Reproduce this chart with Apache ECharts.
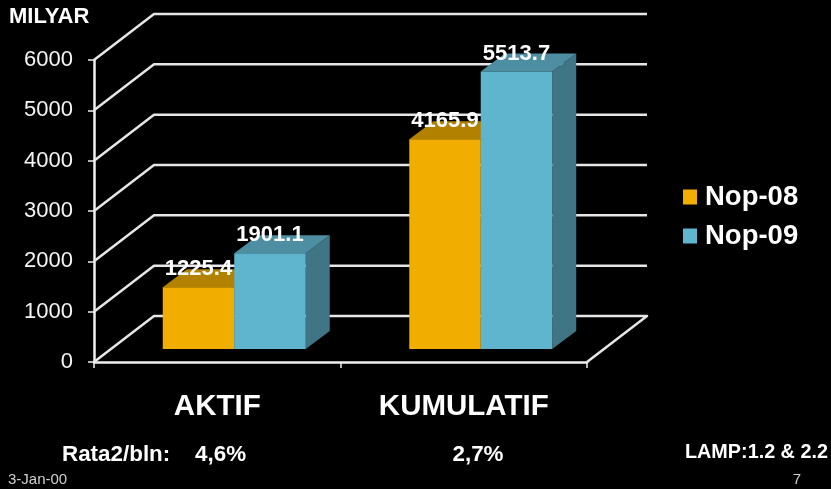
<!DOCTYPE html>
<html>
<head>
<meta charset="utf-8">
<style>html,body{margin:0;padding:0;background:#000}#c{width:831px;height:489px}</style>
<script src="https://cdn.jsdelivr.net/npm/echarts@6/dist/echarts.min.js"></script>
</head>
<body>
<div id="c"></div>
<script>
const categories = ['AKTIF', 'KUMULATIF'];
const nop08 = [1225.4, 4165.9];
const nop09 = [1901.1, 5513.7];
const gridValues = [0, 1000, 2000, 3000, 4000, 5000, 6000];
const seriesNames = ['Nop-08', 'Nop-09'];

const FONT = '"Liberation Sans", Arial, sans-serif';
const WALL = [60, -46], FLOOR = [17, -13], DEPTH = [24, -18];

function wallItem(params, api) {
  const v = api.value(1);
  const y = api.coord([0, v])[1];
  const cs = params.coordSys;
  const x0 = cs.x, x1 = cs.x + cs.width;
  const pts = [[x0, y], [x0 + WALL[0], y + WALL[1]], [x1 + WALL[0], y + WALL[1]]];
  if (v === 0) pts.push([x1, y]);
  return { type: 'polyline', shape: { points: pts },
           style: { stroke: '#e6e6e6', lineWidth: 2.5, fill: null, lineJoin: 'round' } };
}

function barItem(side, palette) {
  return function (params, api) {
    const i = api.value(0), v = api.value(1);
    const band = api.size([1, 0])[0];
    const w = band * 0.29;
    const top = api.coord([i, v]), base = api.coord([i, 0]);
    const xl = top[0] + FLOOR[0] + (side < 0 ? -w : 0), xr = xl + w;
    const yt = top[1] + FLOOR[1], yb = base[1] + FLOOR[1];
    const dx = DEPTH[0], dy = DEPTH[1];
    return { type: 'group', children: [
      { type: 'polygon', shape: { points: [[xr, yt], [xr + dx, yt + dy], [xr + dx, yb + dy], [xr, yb]] }, style: { fill: palette.side } },
      { type: 'polygon', shape: { points: [[xl, yt], [xl + dx, yt + dy], [xr + dx, yt + dy], [xr, yt]] }, style: { fill: palette.top } },
      { type: 'rect', shape: { x: xl, y: yt, width: w, height: yb - yt }, style: { fill: palette.front } },
      { type: 'text', z2: 100, style: { x: (xl + xr) / 2, y: yt - 18, text: String(v), fill: '#fff',
        font: 'bold 22px ' + FONT, textAlign: 'center', textVerticalAlign: 'middle' } }
    ] };
  };
}

const txt = (text, x, y, size, bold, align, color) => ({
  type: 'text', x, y,
  style: { text, fill: color || '#fff', font: (bold ? 'bold ' : '') + size + 'px ' + FONT,
           textAlign: align || 'left', textVerticalAlign: 'middle' }
});

const chart = echarts.init(document.getElementById('c'), null, { renderer: 'canvas' });
chart.setOption({
  animation: false,
  backgroundColor: '#000',
  grid: { left: 94, top: 60, width: 493, height: 302, containLabel: false },
  xAxis: {
    type: 'category', data: categories,
    axisLine: { lineStyle: { color: '#f0f0f0', width: 2.5 } },
    axisTick: { show: true, length: 6, lineStyle: { color: '#f0f0f0', width: 1.5 } },
    axisLabel: { color: '#fff', fontFamily: FONT, fontWeight: 'bold', fontSize: 29.5, margin: 30 },
    splitLine: { show: false }
  },
  yAxis: {
    type: 'value', min: 0, max: 6000, interval: 1000,
    axisLine: { show: true, lineStyle: { color: '#f0f0f0', width: 2.5 } },
    axisTick: { show: true, length: 6, lineStyle: { color: '#f0f0f0', width: 1.5 } },
    axisLabel: { color: '#f4f4f4', fontFamily: FONT, fontSize: 22, margin: 21, formatter: v => String(v) },
    splitLine: { show: false }
  },
  legend: {
    data: seriesNames, orient: 'vertical', left: 678, top: 178,
    icon: 'rect', itemWidth: 14, itemHeight: 15, itemGap: 11,
    textStyle: { color: '#fff', fontFamily: FONT, fontWeight: 'bold', fontSize: 27.5, padding: [0, 0, 0, 3] }
  },
  series: [
    { type: 'custom', name: 'grid', silent: true, z: 1, renderItem: wallItem,
      data: gridValues.map(v => [0, v]), encode: { x: 0, y: 1 } },
    { type: 'custom', name: seriesNames[0], z: 3, itemStyle: { color: '#F2AE00' },
      renderItem: barItem(-1, { front: '#F2AE00', top: '#B38100', side: '#8F6700' }),
      data: nop08.map((v, i) => [i, v]), encode: { x: 0, y: 1 } },
    { type: 'custom', name: seriesNames[1], z: 4, itemStyle: { color: '#5FB4CE' },
      renderItem: barItem(1, { front: '#5FB4CE', top: '#4D8EA3', side: '#3F7585' }),
      data: nop09.map((v, i) => [i, v]), encode: { x: 0, y: 1 } }
  ],
  graphic: [
    txt('MILYAR', 9, 17, 22, true),
    txt('Rata2/bln:', 62, 455, 22.4, true),
    txt('4,6%', 195, 455, 22.4, true),
    txt('2,7%', 478, 455, 22.4, true, 'center'),
    txt('LAMP:1.2 & 2.2', 685, 453, 19.8, true),
    txt('3-Jan-00', 8, 480, 15, false, 'left', '#d0d0d0'),
    txt('7', 797, 480, 15, false, 'center', '#d0d0d0')
  ]
});
</script>
</body>
</html>
